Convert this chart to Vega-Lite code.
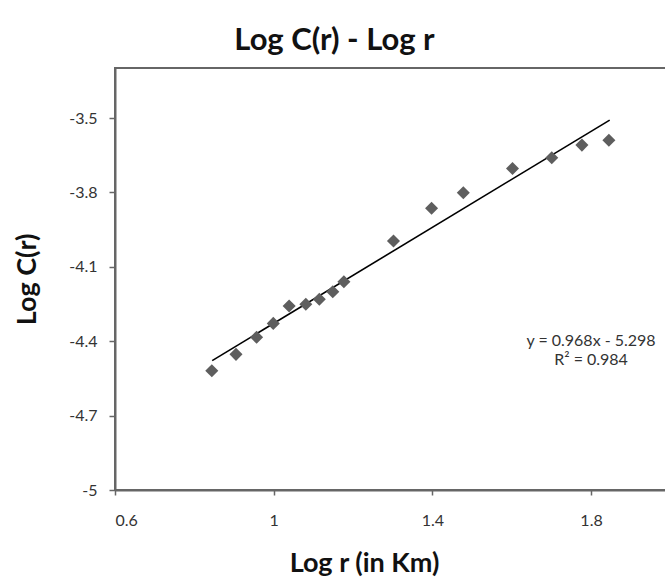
{
  "$schema": "https://vega.github.io/schema/vega-lite/v6.json",
  "autosize": {"type": "none"},
  "padding": {"left": 115, "top": 68, "right": 0, "bottom": 93},
  "width": 553,
  "height": 422,
  "background": "white",
  "title": {
    "text": "Log C(r) - Log r",
    "font": "Lato",
    "fontSize": 31,
    "fontWeight": "bold",
    "color": "#111111",
    "anchor": "middle",
    "dx": -57,
    "offset": 11
  },
  "config": {
    "view": {"stroke": "#666666", "strokeWidth": 2},
    "axis": {
      "grid": false,
      "domainColor": "#666666",
      "domainWidth": 2,
      "tickColor": "#666666",
      "tickWidth": 1.5,
      "labelFont": "Lato",
      "labelFontSize": 16,
      "labelColor": "#333333",
      "titleFont": "Lato",
      "titleFontSize": 27,
      "titleFontWeight": "bold",
      "titleColor": "#111111"
    }
  },
  "datasets": {
    "points": [
      {"logr": 0.844, "logc": -4.519},
      {"logr": 0.905, "logc": -4.453},
      {"logr": 0.957, "logc": -4.384},
      {"logr": 0.999, "logc": -4.328},
      {"logr": 1.039, "logc": -4.258},
      {"logr": 1.081, "logc": -4.251},
      {"logr": 1.115, "logc": -4.231},
      {"logr": 1.149, "logc": -4.2},
      {"logr": 1.177, "logc": -4.16},
      {"logr": 1.302, "logc": -3.996},
      {"logr": 1.398, "logc": -3.864},
      {"logr": 1.478, "logc": -3.801},
      {"logr": 1.602, "logc": -3.703},
      {"logr": 1.701, "logc": -3.66},
      {"logr": 1.777, "logc": -3.609},
      {"logr": 1.845, "logc": -3.589}
    ],
    "trend": [
      {"logr": 0.845, "logc": -4.478},
      {"logr": 1.847, "logc": -3.508}
    ],
    "note": [
      {"logr": 1.8, "logc": -4.4, "label": ["y = 0.968x - 5.298", "R² = 0.984"]}
    ]
  },
  "layer": [
    {
      "data": {"name": "trend"},
      "mark": {"type": "line", "color": "#000000", "strokeWidth": 1.6},
      "encoding": {
        "x": {
          "field": "logr",
          "type": "quantitative",
          "scale": {"domain": [0.6, 1.994], "nice": false, "zero": false},
          "axis": {
            "title": "Log r (in Km)",
            "values": [0.6, 1, 1.4, 1.8],
            "labelExpr": "'' + datum.value",
            "tickSize": 5,
            "labelPadding": 17,
            "titleX": 249,
            "titleY": 73,
            "titleBaseline": "middle"
          }
        },
        "y": {
          "field": "logc",
          "type": "quantitative",
          "scale": {"domain": [-5, -3.298], "nice": false, "zero": false},
          "axis": {
            "title": "Log C(r)",
            "values": [-5, -4.7, -4.4, -4.1, -3.8, -3.5],
            "labelExpr": "'' + datum.value",
            "tickSize": 6,
            "labelPadding": 12,
            "titleX": -88,
            "titleBaseline": "middle"
          }
        }
      }
    },
    {
      "data": {"name": "points"},
      "mark": {"type": "point", "shape": "diamond", "filled": true, "size": 170, "color": "#5e5e5e", "opacity": 1},
      "encoding": {
        "x": {"field": "logr", "type": "quantitative"},
        "y": {"field": "logc", "type": "quantitative"}
      }
    },
    {
      "data": {"name": "note"},
      "mark": {"type": "text", "font": "Lato", "fontSize": 16, "color": "#333333", "align": "center", "baseline": "middle", "lineHeight": 18.5},
      "encoding": {
        "x": {"field": "logr", "type": "quantitative"},
        "y": {"field": "logc", "type": "quantitative"},
        "text": {"field": "label"}
      }
    }
  ]
}
